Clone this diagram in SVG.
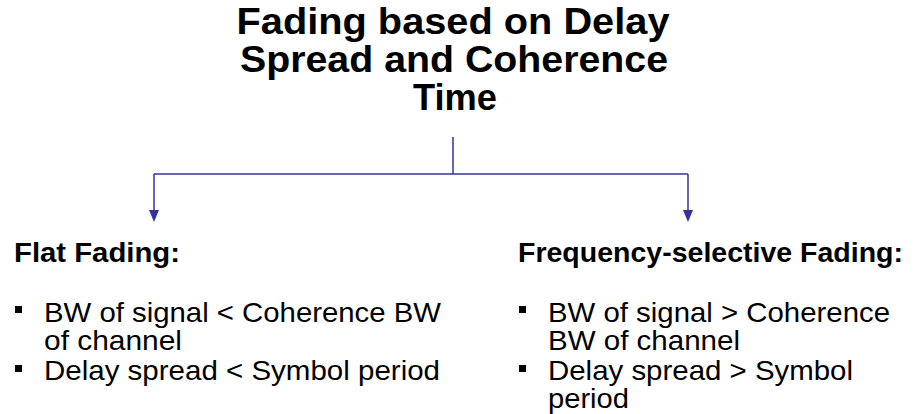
<svg xmlns="http://www.w3.org/2000/svg" width="919" height="414" viewBox="0 0 919 414">
<defs>
<style>
.title{font-family:"Liberation Sans",Arial,sans-serif;font-weight:bold;font-size:36.5px;fill:#000;text-anchor:middle}
.head{font-family:"Liberation Sans",Arial,sans-serif;font-weight:bold;font-size:28.5px;fill:#000}
.body{font-family:"Liberation Sans",Arial,sans-serif;font-size:28px;fill:#000}
.conn{stroke:#333399;stroke-width:1.5;fill:none}
.arrow{fill:#333399}
.bullet{fill:#000}
</style>
</defs>
<rect width="919" height="414" fill="#fff"/>
<g id="title">
<text class="title" x="453" y="34" textLength="433" lengthAdjust="spacingAndGlyphs">Fading based on Delay</text>
<text class="title" x="454" y="72" textLength="428" lengthAdjust="spacingAndGlyphs">Spread and Coherence</text>
<text class="title" x="455" y="110" textLength="84" lengthAdjust="spacingAndGlyphs">Time</text>
</g>
<g id="connectors">
<path class="conn" d="M453,137 V174"/>
<path class="conn" d="M154,174 H688"/>
<path class="conn" d="M154,174 V211"/>
<path class="conn" d="M688,174 V211"/>
<path class="arrow" d="M149,210 L159,210 L154,222 Z"/>
<path class="arrow" d="M683,210 L693,210 L688,222 Z"/>
</g>
<g id="flat">
<text class="head" x="14" y="262" textLength="166" lengthAdjust="spacingAndGlyphs">Flat Fading:</text>
<rect class="bullet" x="15" y="306" width="7" height="7"/>
<text class="body" x="44" y="322" textLength="397" lengthAdjust="spacingAndGlyphs">BW of signal &lt; Coherence BW</text>
<text class="body" x="44" y="350" textLength="138" lengthAdjust="spacingAndGlyphs">of channel</text>
<rect class="bullet" x="15" y="365" width="7" height="7"/>
<text class="body" x="44" y="380" textLength="396" lengthAdjust="spacingAndGlyphs">Delay spread &lt; Symbol period</text>
</g>
<g id="freq">
<text class="head" x="518" y="262" textLength="385" lengthAdjust="spacingAndGlyphs">Frequency-selective Fading:</text>
<rect class="bullet" x="519" y="306" width="7" height="7"/>
<text class="body" x="548" y="322" textLength="342" lengthAdjust="spacingAndGlyphs">BW of signal &gt; Coherence</text>
<text class="body" x="548" y="350" textLength="192" lengthAdjust="spacingAndGlyphs">BW of channel</text>
<rect class="bullet" x="519" y="365" width="7" height="7"/>
<text class="body" x="548" y="380" textLength="305" lengthAdjust="spacingAndGlyphs">Delay spread &gt; Symbol</text>
<text class="body" x="548" y="408" textLength="81" lengthAdjust="spacingAndGlyphs">period</text>
</g>
</svg>
